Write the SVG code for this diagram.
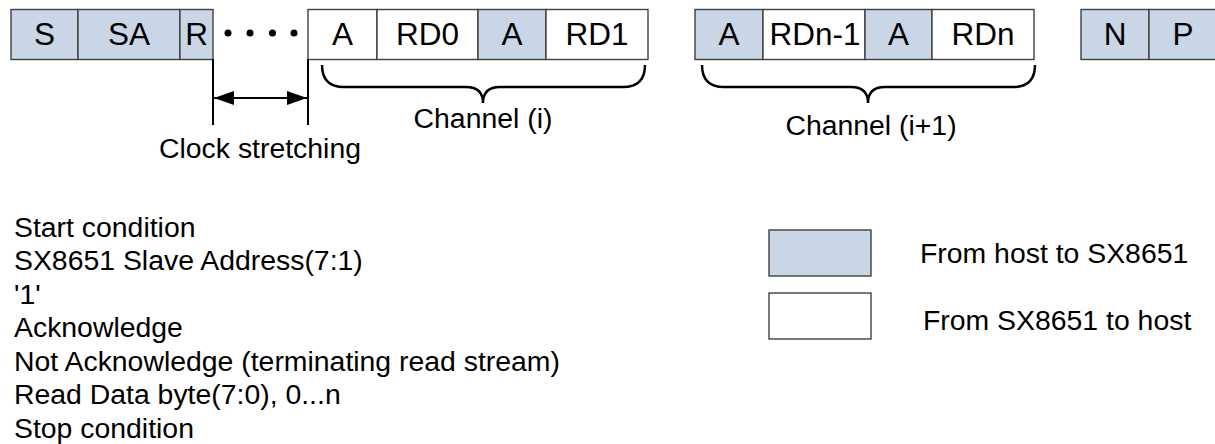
<svg xmlns="http://www.w3.org/2000/svg" width="1215" height="444" viewBox="0 0 1215 444">
<style>
.box{stroke:#404040;stroke-width:1.4}
.h{fill:#c9d6e5}
.s{fill:#ffffff}
.bt{font-family:"Liberation Sans",Arial,sans-serif;font-size:31.5px;fill:#000;text-anchor:middle}
.t{font-family:"Liberation Sans",Arial,sans-serif;font-size:28.4px;fill:#000}
.c{text-anchor:middle}
.ln{stroke:#000;stroke-width:2;fill:none}
.br{stroke:#000;stroke-width:2.5;fill:none}
</style>
<defs>
<marker id="ah" viewBox="0 0 20 14" refX="20" refY="7" markerWidth="20" markerHeight="14" markerUnits="userSpaceOnUse" orient="auto-start-reverse">
<path d="M0,0 L20,7 L0,14 Z" fill="#000"/>
</marker>
</defs>
<rect x="0" y="0" width="1215" height="444" fill="#fff"/>

<g id="node-S"><rect class="box h" x="11" y="9.5" width="67" height="50"/><text class="bt" x="44.5" y="45">S</text></g>
<g id="node-SA"><rect class="box h" x="78" y="9.5" width="102" height="50"/><text class="bt" x="129" y="45">SA</text></g>
<g id="node-R"><rect class="box h" x="180" y="9.5" width="33" height="50"/><text class="bt" x="196.5" y="45">R</text></g>
<g id="dots"><circle cx="228" cy="33" r="3.5"/><circle cx="250" cy="33" r="3.5"/><circle cx="272.5" cy="33" r="3.5"/><circle cx="294" cy="33" r="3.5"/></g>

<g id="node-A1"><rect class="box s" x="308" y="9.5" width="69" height="50"/><text class="bt" x="342.5" y="45">A</text></g>
<g id="node-RD0"><rect class="box s" x="377" y="9.5" width="101" height="50"/><text class="bt" x="427.5" y="45">RD0</text></g>
<g id="node-A2"><rect class="box h" x="478" y="9.5" width="68" height="50"/><text class="bt" x="512" y="45">A</text></g>
<g id="node-RD1"><rect class="box s" x="546" y="9.5" width="102" height="50"/><text class="bt" x="597" y="45">RD1</text></g>

<g id="node-A3"><rect class="box h" x="695" y="9.5" width="68" height="50"/><text class="bt" x="729" y="45">A</text></g>
<g id="node-RDn-1"><rect class="box s" x="763" y="9.5" width="102" height="50"/><text class="bt" x="815" y="45">RDn-1</text></g>
<g id="node-A4"><rect class="box h" x="865" y="9.5" width="67" height="50"/><text class="bt" x="898.5" y="45">A</text></g>
<g id="node-RDn"><rect class="box s" x="932" y="9.5" width="102" height="50"/><text class="bt" x="983" y="45">RDn</text></g>

<g id="node-N"><rect class="box h" x="1081" y="9.5" width="68" height="50"/><text class="bt" x="1115" y="45">N</text></g>
<g id="node-P"><rect class="box h" x="1149" y="9.5" width="70" height="50"/><text class="bt" x="1183" y="45">P</text></g>

<g id="connectors">
<line class="ln" x1="213" y1="59" x2="213" y2="125"/>
<line class="ln" x1="308" y1="59" x2="308" y2="125"/>
<line class="ln" x1="214" y1="98" x2="307" y2="98" marker-start="url(#ah)" marker-end="url(#ah)"/>
<path class="br" d="M322,65 Q322,87 344,87 H466 Q483,87 483,103 Q483,87 500,87 H623 Q645,87 645,65"/>
<path class="br" d="M702,65 Q702,87 724,87 H851 Q868,87 868,103 Q868,87 885,87 H1013 Q1035,87 1035,65"/>
</g>

<g id="labels">
<text class="t c" x="260" y="158">Clock stretching</text>
<text class="t c" x="483" y="128">Channel (i)</text>
<text class="t c" x="871" y="135">Channel (i+1)</text>
</g>

<g id="legend-list">
<text class="t" x="14" y="236.5">Start condition</text>
<text class="t" x="14" y="270">SX8651 Slave Address(7:1)</text>
<text class="t" x="14" y="303.5">'1'</text>
<text class="t" x="14" y="337">Acknowledge</text>
<text class="t" x="14" y="370.5">Not Acknowledge (terminating read stream)</text>
<text class="t" x="14" y="404">Read Data byte(7:0), 0...n</text>
<text class="t" x="14" y="437.5">Stop condition</text>
</g>

<g id="legend-host"><rect class="box h" x="769" y="230" width="102" height="46"/><text class="t" x="920" y="263">From host to SX8651</text></g>
<g id="legend-dev"><rect class="box s" x="769" y="293" width="102" height="46"/><text class="t" x="923" y="330">From SX8651 to host</text></g>
</svg>
